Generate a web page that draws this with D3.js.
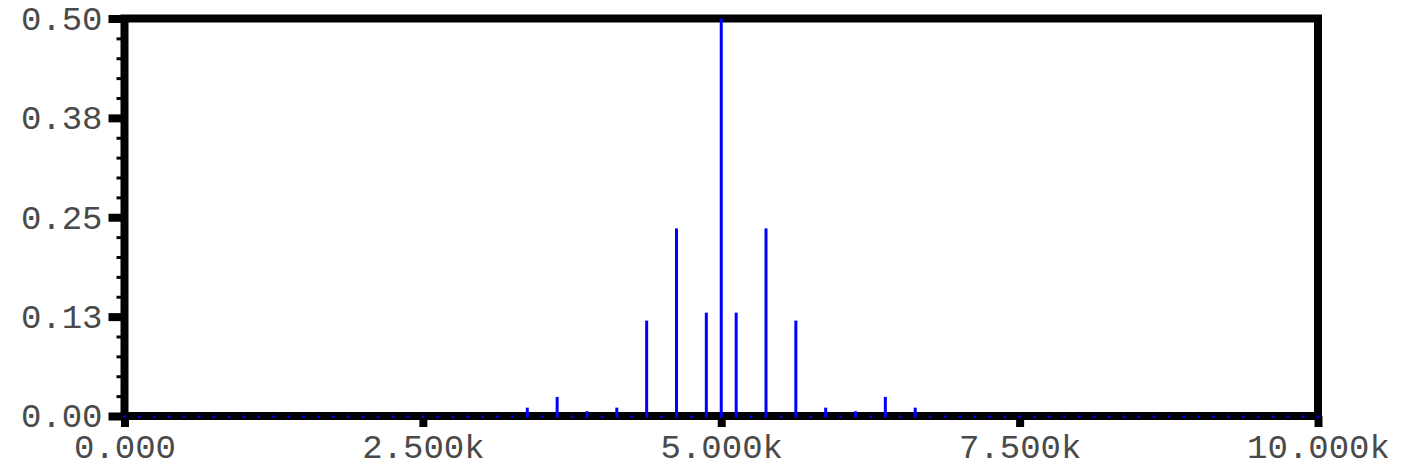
<!DOCTYPE html>
<html>
<head>
<meta charset="utf-8">
<script src="https://cdn.jsdelivr.net/npm/d3@7"></script>
<style>
	html, body { margin: 0; padding: 0; background: #fff; }
	svg { display: block; }
</style>
</head>
<body>
<script>

// spectrum bins, one every binHz from 0 to 10 kHz
var binHz = 125
var amplitudes = [
	0, 0, 0, 0, 0, 0, 0, 0, 0, 0,
	0, 0, 0, 0, 0, 0, 0, 0, 0, 0,
	0, 0, 0, 0, 0, 0, 0, 0.0105, 0, 0.024,
	0, 0.006, 0, 0.0105, 0, 0.12, 0, 0.236, 0, 0.13,
	0.5, 0.13, 0, 0.236, 0, 0.12, 0, 0.0105, 0, 0.006,
	0, 0.024, 0, 0.0105, 0, 0, 0, 0, 0, 0,
	0, 0, 0, 0, 0, 0, 0, 0, 0, 0,
	0, 0, 0, 0, 0, 0, 0, 0, 0, 0,
	0
]
var xTicks = [0, 2500, 5000, 7500, 10000]
var yTicks = [0, 0.125, 0.25, 0.375, 0.5]
var yMinorTicks = [0.025, 0.05, 0.075, 0.1, 0.15, 0.175, 0.2, 0.225, 0.275, 0.3, 0.325, 0.35, 0.4, 0.425, 0.45, 0.475]

window.onload = function WindowLoad(event) {
	DrawSpectrum()
}

function DrawSpectrum(){
	var W = 1407, H = 470
	var left = 124.5, right = 1318, top = 18.5, bottom = 416
	var font = "'Liberation Mono', 'Courier New', monospace"

	var svg = d3.select("body").append("svg")
		.attr("width", W)
		.attr("height", H)

	var x = d3.scaleLinear().domain([0, 10000]).range([left, right])
	var y = d3.scaleLinear().domain([0, 0.5]).range([bottom, top])

	var bins = amplitudes.map(function(a, i){
		return { f: i * binHz, a: a }
	})

	// minor ticks on the left
	var yMinor = svg.append("g")
		.attr("transform", "translate(" + left + ",0)")
		.call(d3.axisLeft(y).tickValues(yMinorTicks).tickSize(8).tickFormat(""))
	yMinor.select(".domain").remove()
	yMinor.selectAll(".tick line").attr("stroke", "#000").attr("stroke-width", 3)

	// major y axis
	var yAxis = svg.append("g")
		.attr("transform", "translate(" + left + ",0)")
		.call(d3.axisLeft(y).tickValues(yTicks).tickSize(16).tickPadding(6).tickFormat(d3.format(".2f")))
	yAxis.select(".domain").remove()
	yAxis.selectAll(".tick line").attr("stroke", "#000").attr("stroke-width", 8)
	yAxis.selectAll(".tick text")
		.attr("fill", "#4a4a4a")
		.style("font-family", font)
		.style("font-size", "34px")

	// x axis
	var xAxis = svg.append("g")
		.attr("transform", "translate(0," + bottom + ")")
		.call(d3.axisBottom(x).tickValues(xTicks).tickSize(11).tickPadding(7).tickFormat(function(d){
			if (d === 0) return "0.000"
			return (d / 1000).toFixed(3) + "k"
		}))
	xAxis.select(".domain").remove()
	xAxis.selectAll(".tick line").attr("stroke", "#000").attr("stroke-width", 8)
	xAxis.selectAll(".tick text")
		.attr("fill", "#4a4a4a")
		.style("font-family", font)
		.style("font-size", "34px")

	// plot frame
	svg.append("rect")
		.attr("x", left)
		.attr("y", top)
		.attr("width", right - left)
		.attr("height", bottom - top)
		.attr("fill", "none")
		.attr("stroke", "#000")
		.attr("stroke-width", 8)

	// stems
	svg.selectAll("line.stem")
		.data(bins.filter(function(d){ return d.a > 0 }))
		.enter()
		.append("line")
		.attr("class", "stem")
		.attr("x1", function(d){ return x(d.f) })
		.attr("x2", function(d){ return x(d.f) })
		.attr("y1", y(0))
		.attr("y2", function(d){ return y(d.a) })
		.attr("stroke", "#0000ff")
		.attr("stroke-width", 3)

	// bin markers on the baseline
	svg.selectAll("circle.bin")
		.data(bins)
		.enter()
		.append("circle")
		.attr("class", "bin")
		.attr("cx", function(d){ return x(d.f) })
		.attr("cy", y(0) + 0.7)
		.attr("r", 1.4)
		.attr("fill", "#0000ff")
}

</script>
</body>
</html>
